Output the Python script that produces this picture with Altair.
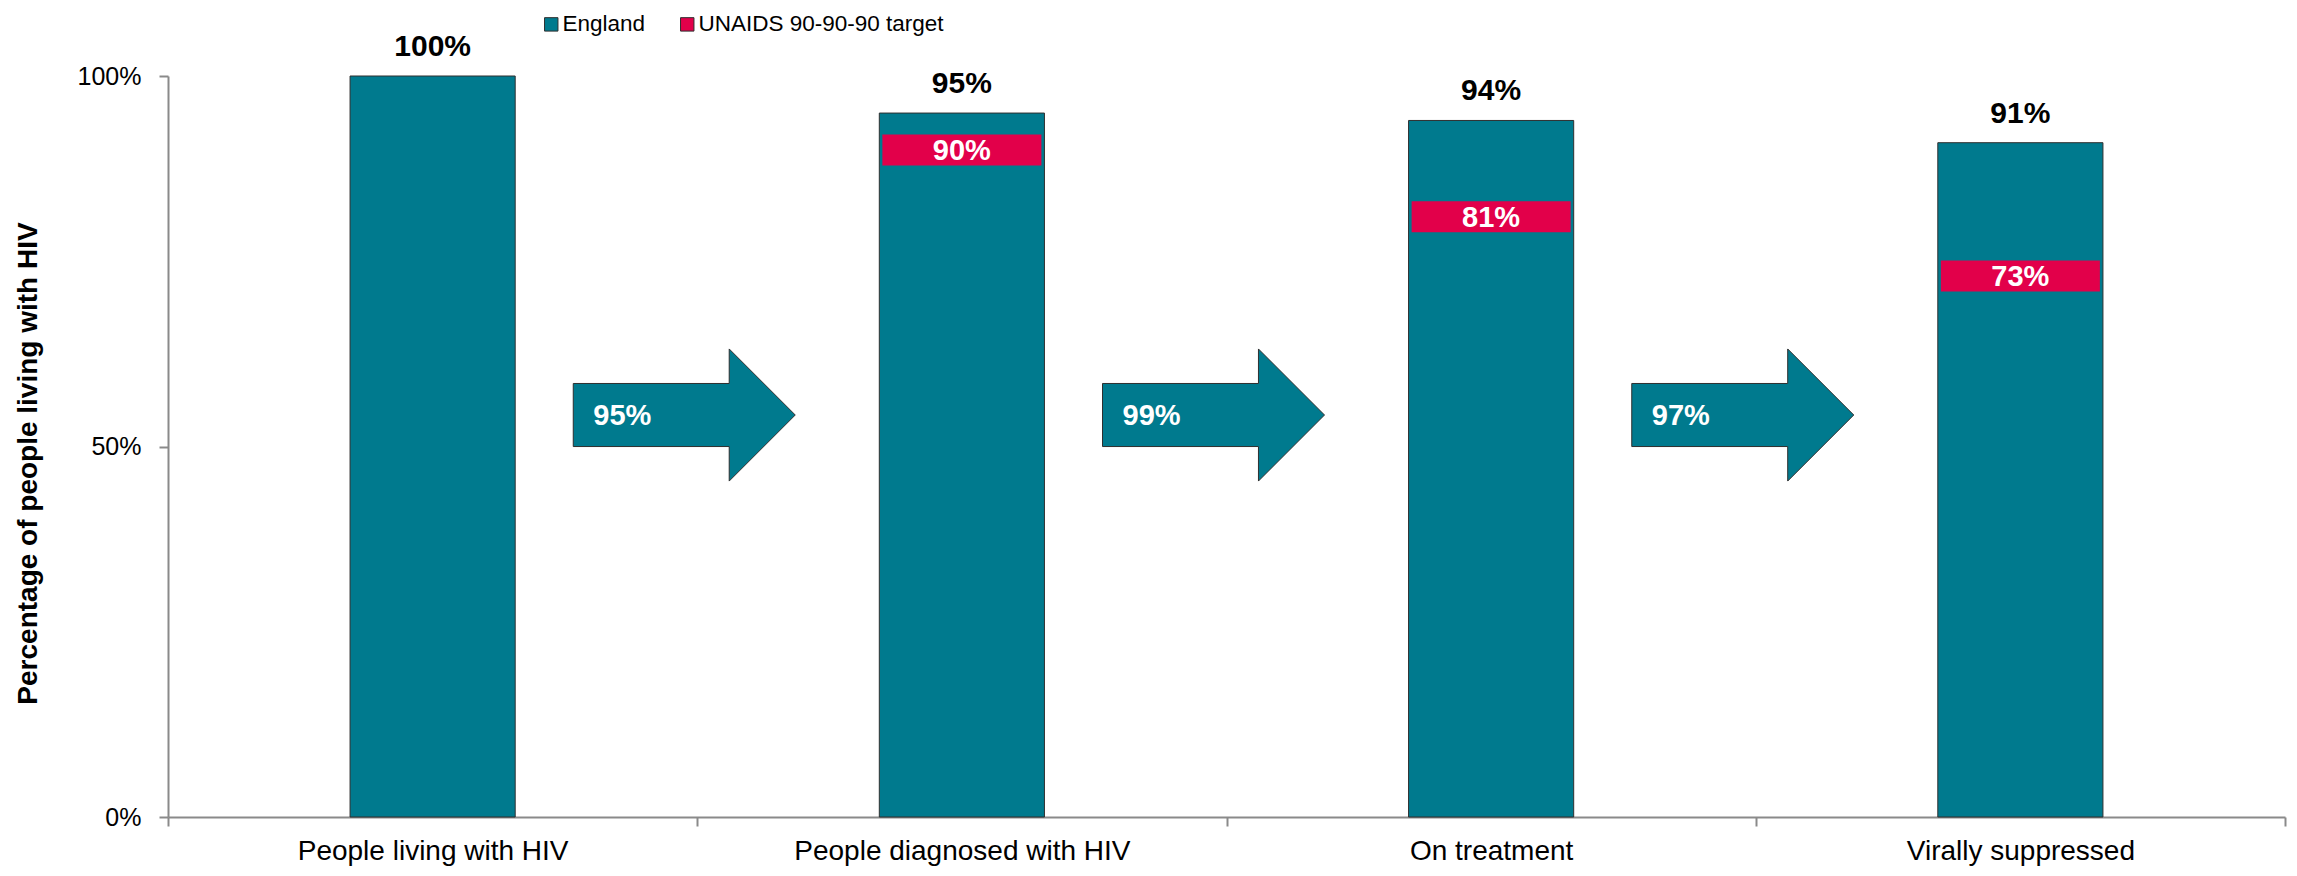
import altair as alt
import pandas as pd

# Stages of the HIV care cascade and England's result at each stage
stages = [
    "People living with HIV",
    "People diagnosed with HIV",
    "On treatment",
    "Virally suppressed",
]
england = [1.00, 0.95, 0.94, 0.91]

# UNAIDS 90-90-90 targets, expressed as a share of all people living with HIV
target_stages = ["People diagnosed with HIV", "On treatment", "Virally suppressed"]
targets = [0.90, 0.81, 0.73]

# Conversion from one stage to the next (shown inside the arrows)
step_from = ["People living with HIV", "People diagnosed with HIV", "On treatment"]
step_rates = [0.95, 0.99, 0.97]

series_names = ["England", "UNAIDS 90-90-90 target"]

TEAL = "#007A8E"
RED = "#E2004A"
OUTLINE = "#2f2f2f"
FONT = "Liberation Sans"

bars_df = pd.DataFrame({"stage": stages, "value": england, "series": series_names[0]})
target_df = pd.DataFrame({"stage": target_stages, "value": targets, "series": series_names[1]})
step_df = pd.DataFrame({"stage": step_from, "rate": step_rates})

# vertical level of the arrows, on the percentage scale
ARROW_LEVEL = 0.5425
# block arrow drawn as a custom symbol in the unit square
ARROW_PATH = (
    "M -1 -0.284 L 0.405 -0.284 L 0.405 -0.595 L 1 0 "
    "L 0.405 0.595 L 0.405 0.284 L -1 0.284 Z"
)

x_enc = alt.X(
    "stage:N",
    sort=stages,
    scale=alt.Scale(type="band", domain=stages, paddingInner=0, paddingOuter=0),
    axis=alt.Axis(
        title=None,
        labelAngle=0,
        tickBand="extent",
        labelFontSize=28,
        labelPadding=11,
        labelLimit=0,
    ),
)
y_scale = alt.Scale(domain=[0, 1], nice=False)
y_axis = alt.Axis(
    values=[0, 0.5, 1],
    format=".0%",
    grid=False,
    title="Percentage of people living with HIV",
    titleFontSize=28,
    titleFontWeight="bold",
    titleX=-132,
    titleY=387,
    titleAngle=270,
    titleBaseline="alphabetic",
    titleAlign="center",
    labelFontSize=25,
    labelPadding=18,
)
color_enc = alt.Color(
    "series:N",
    scale=alt.Scale(domain=series_names, range=[TEAL, RED]),
    legend=alt.Legend(
        title=None,
        orient="none",
        direction="horizontal",
        legendX=372,
        legendY=-63,
        symbolType="square",
        symbolSize=180,
        symbolStrokeColor=OUTLINE,
        symbolStrokeWidth=1,
        symbolOpacity=1,
        labelFontSize=22.5,
        labelOffset=0,
        labelLimit=0,
        columnPadding=30,
        padding=0,
    ),
)

bars = (
    alt.Chart(bars_df)
    .mark_bar(width={"band": 0.312}, stroke=OUTLINE, strokeWidth=1, opacity=1)
    .encode(x=x_enc, y=alt.Y("value:Q", scale=y_scale, axis=y_axis), color=color_enc)
)

bar_labels = (
    alt.Chart(bars_df)
    .mark_text(dy=-29, fontSize=30, fontWeight="bold", color="#000", baseline="middle")
    .encode(x=alt.X("stage:N", sort=stages), y="value:Q", text=alt.Text("value:Q", format=".0%"))
)

target_marks = (
    alt.Chart(target_df)
    .mark_tick(thickness=31, size=159, opacity=1)
    .encode(x=alt.X("stage:N", sort=stages), y="value:Q", color=color_enc)
)

target_labels = (
    alt.Chart(target_df)
    .mark_text(fontSize=29, fontWeight="bold", color="white", baseline="middle", dy=1)
    .encode(x=alt.X("stage:N", sort=stages), y="value:Q", text=alt.Text("value:Q", format=".0%"))
)

arrows = (
    alt.Chart(step_df)
    .mark_point(
        shape=ARROW_PATH,
        size=49284,
        filled=True,
        fill=TEAL,
        stroke=OUTLINE,
        strokeWidth=1,
        opacity=1,
        xOffset=-13,
    )
    .encode(x=alt.X("stage:N", sort=stages, bandPosition=1), y=alt.datum(ARROW_LEVEL))
)

arrow_labels = (
    alt.Chart(step_df)
    .mark_text(
        fontSize=29,
        fontWeight="bold",
        color="white",
        align="left",
        baseline="middle",
        xOffset=-104,
        dy=1,
    )
    .encode(
        x=alt.X("stage:N", sort=stages, bandPosition=1),
        y=alt.datum(ARROW_LEVEL),
        text=alt.Text("rate:Q", format=".0%"),
    )
)

chart = (
    alt.layer(bars, target_marks, arrows, bar_labels, target_labels, arrow_labels)
    .properties(
        width=2117,
        height=741,
        autosize=alt.AutoSizeParams(type="none"),
        padding={"left": 168, "top": 76, "right": 12, "bottom": 59},
    )
    .configure(font=FONT)
    .configure_view(stroke=None)
    .configure_axis(
        domainColor="#8a8a8a",
        domainWidth=2,
        tickColor="#8a8a8a",
        tickWidth=2,
        tickSize=9,
        labelColor="#000",
        titleColor="#000",
        labelFont=FONT,
        titleFont=FONT,
    )
    .configure_legend(labelColor="#000", labelFont=FONT)
)

chart.save("out.html", embed_options={"renderer": "svg", "actions": False})
